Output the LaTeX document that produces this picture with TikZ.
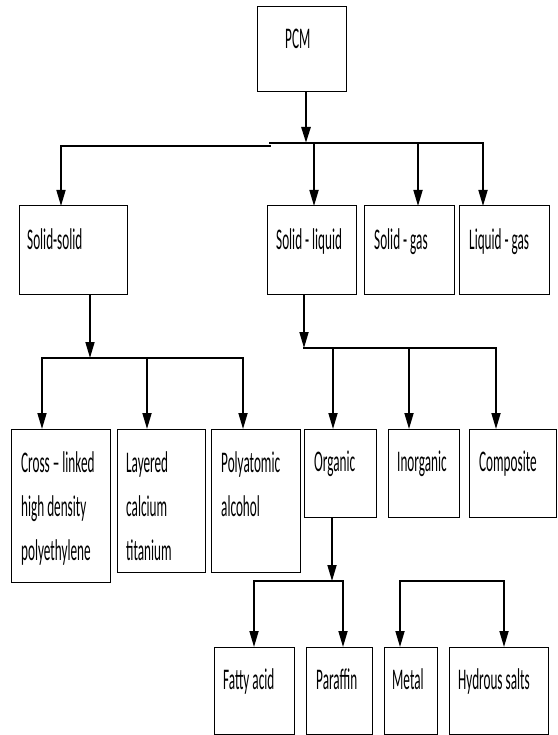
\documentclass[tikz,border=0pt]{standalone}
\usepackage{fontspec}
\setmainfont{Carlito}[FakeStretch=0.44]
\usetikzlibrary{arrows.meta}
\begin{document}
\begin{tikzpicture}[x=1pt,y=-1pt,
  box/.style={draw, line width=1pt, inner sep=0pt, outer sep=0pt, anchor=north west},
  lbl/.style={inner sep=0pt, anchor=base west, font=\fontsize{30}{44}\selectfont},
  mlbl/.style={inner sep=0pt, anchor=north west, align=left, font=\fontsize{30}{44}\selectfont},
  conn/.style={line width=1.7pt, line cap=rect},
  arr/.style={line width=1.7pt, -{Triangle[length=16pt,width=9pt]}}]
\useasboundingbox (0,0) rectangle (557,735);
\clip (0,0) rectangle (557,735);
\fill[white] (0,0) rectangle (557,735);
% boxes
\node[box, minimum width=89pt, minimum height=85pt] (pcm) at (257,7) {};
\node[box, minimum width=108pt, minimum height=88pt] (ss) at (19,206) {};
\node[box, minimum width=89pt, minimum height=88pt] (sl) at (267,206) {};
\node[box, minimum width=90pt, minimum height=88pt] (sg) at (364,206) {};
\node[box, minimum width=90pt, minimum height=88pt] (lg) at (459,206) {};
\node[box, minimum width=99pt, minimum height=153pt] (cl) at (11,429) {};
\node[box, minimum width=88pt, minimum height=143pt] (lc) at (117,429) {};
\node[box, minimum width=89pt, minimum height=143pt] (pa) at (211,429) {};
\node[box, minimum width=72pt, minimum height=88pt] (org) at (304,429) {};
\node[box, minimum width=71pt, minimum height=88pt] (inorg) at (388,429) {};
\node[box, minimum width=87pt, minimum height=88pt] (comp) at (469,429) {};
\node[box, minimum width=80pt, minimum height=87pt] (fa) at (214,647) {};
\node[box, minimum width=66pt, minimum height=87pt] (par) at (306,647) {};
\node[box, minimum width=53pt, minimum height=87pt] (met) at (384,647) {};
\node[box, minimum width=99pt, minimum height=87pt] (hyd) at (449,647) {};
% labels
\node[lbl] (tpcm) at ([shift={(28,42)}]pcm.north west) {PCM};
\node[lbl] (tss) at ([shift={(8,43)}]ss.north west) {Solid-solid};
\node[lbl] (tsl) at ([shift={(9,43)}]sl.north west) {Solid - liquid};
\node[lbl] (tsg) at ([shift={(10,43)}]sg.north west) {Solid - gas};
\node[lbl] (tlg) at ([shift={(10,43)}]lg.north west) {Liquid - gas};
\node[mlbl] (tcl) at ([shift={(10,22)}]cl.north west) {Cross – linked\\high density\\polyethylene};
\node[mlbl] (tlc) at ([shift={(9,22)}]lc.north west) {Layered\\calcium\\titanium};
\node[mlbl] (tpa) at ([shift={(10,22)}]pa.north west) {Polyatomic\\alcohol};
\node[lbl] (torg) at ([shift={(10,42)}]org.north west) {Organic};
\node[lbl] (tinorg) at ([shift={(9,42)}]inorg.north west) {Inorganic};
\node[lbl] (tcomp) at ([shift={(10,42)}]comp.north west) {Composite};
\node[lbl] (tfa) at ([shift={(9,42)}]fa.north west) {Fatty acid};
\node[lbl] (tpar) at ([shift={(10,42)}]par.north west) {Paraffin};
\node[lbl] (tmet) at ([shift={(8,42)}]met.north west) {Metal};
\node[lbl] (thyd) at ([shift={(9,42)}]hyd.north west) {Hydrous salts};
% level 1
\coordinate (p0) at (306,143);
\coordinate (b1) at (61,146);
\coordinate (bk1) at (270,146);
\coordinate (bk2) at (270,143);
\coordinate (b2) at (314,143);
\coordinate (b3) at (418,143);
\coordinate (b4) at (483,143);
\draw[line width=2.6pt, -{Triangle[length=16pt,width=9pt]}] (pcm.south -| p0) -- (p0);
\draw[conn] (b1) -- (bk1);
\draw[conn] (bk2) -- (b4);
\draw[arr] (b1) -- (b1 |- ss.north);
\draw[arr] (b2) -- (b2 |- sl.north);
\draw[arr] (b3) -- (b3 |- sg.north);
\draw[arr] (b4) -- (b4 |- lg.north);
% solid-solid
\coordinate (s0) at (90,358);
\coordinate (s1) at (42,358);
\coordinate (s2) at (147,358);
\coordinate (s3) at (243,358);
\draw[arr] (ss.south -| s0) -- (s0);
\draw[conn] (s1) -- (s3);
\draw[arr] (s1) -- (s1 |- cl.north);
\draw[arr] (s2) -- (s2 |- lc.north);
\draw[arr] (s3) -- (s3 |- pa.north);
% solid-liquid
\coordinate (q0) at (304,348);
\coordinate (q1) at (333,348);
\coordinate (q2) at (409,348);
\coordinate (q3) at (496,348);
\draw[arr] (sl.south -| q0) -- (q0);
\draw[conn] (q0) -- (q3);
\draw[arr] (q1) -- (q1 |- org.north);
\draw[arr] (q2) -- (q2 |- inorg.north);
\draw[arr] (q3) -- (q3 |- comp.north);
% organic
\coordinate (o0) at (332,581);
\coordinate (o1) at (254,581);
\coordinate (o2) at (343,581);
\draw[arr] (org.south -| o0) -- (o0);
\draw[conn] (o1) -- (o2);
\draw[arr] (o1) -- (o1 |- fa.north);
\draw[arr] (o2) -- (o2 |- par.north);
% metal / hydrous
\coordinate (m1) at (400,581);
\coordinate (m2) at (504,581);
\draw[conn] (m1) -- (m2);
\draw[arr] (m1) -- (m1 |- met.north);
\draw[arr] (m2) -- (m2 |- hyd.north);
\end{tikzpicture}
\end{document}
